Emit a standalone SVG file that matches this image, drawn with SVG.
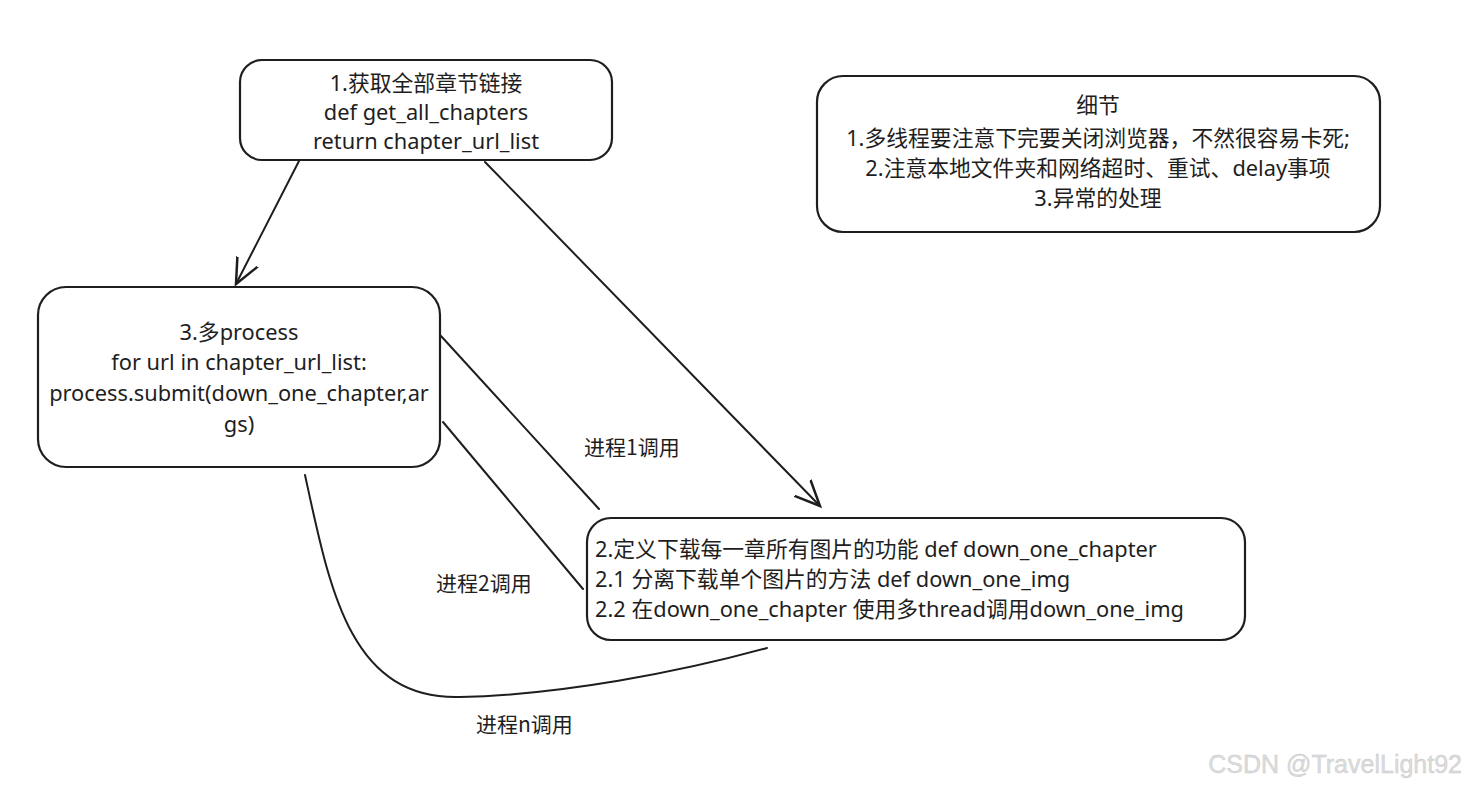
<svg xmlns="http://www.w3.org/2000/svg" width="1467" height="789" viewBox="0 0 1467 789">
<style>
.box{fill:#fff;stroke:#1e1e1e;stroke-width:2.2}
.t{font-family:"Noto Sans","Noto Sans CJK SC",sans-serif;font-size:21.8px;fill:#1e1e1e}
.c{text-anchor:middle}
.lbl{font-family:"Noto Sans CJK SC","Noto Sans",sans-serif;font-size:21px;font-weight:400;fill:#1e1e1e}
.ln{fill:none;stroke:#1e1e1e;stroke-width:2;stroke-linecap:round}
</style>
<defs>
<marker id="ah" markerUnits="userSpaceOnUse" markerWidth="30" markerHeight="30" viewBox="-20 -12 24 24" refX="0" refY="0" orient="auto">
<path d="M-20,-9 L0,0 L-20,9" fill="none" stroke="#1e1e1e" stroke-width="2" stroke-linecap="round"/>
</marker>
</defs>
<rect width="1467" height="789" fill="#fff"/>
<g id="connectors">
<path class="ln" d="M299,161 L236,284" marker-end="url(#ah)"/>
<path class="ln" d="M485,162 L820,506" stroke-width="1.6" marker-end="url(#ah)"/>
<path class="ln" d="M441,336 L599,509" stroke-width="1.7"/>
<path class="ln" d="M443,422 L583,589" stroke-width="2.6"/>
<path class="ln" d="M305,475 C330,590 350,700 460,697 C560,695 680,672 767,648" stroke-width="2.4"/>
<text class="lbl" x="584" y="455">进程1调用</text>
<text class="lbl" x="436" y="591">进程2调用</text>
<text class="lbl" x="476" y="732">进程n调用</text>
</g>
<g id="node-1">
<rect class="box" x="240" y="60" width="372" height="100" rx="22"/>
<text class="t c" x="426" y="91">1.获取全部章节链接</text>
<text class="t c" x="426" y="120">def get_all_chapters</text>
<text class="t c" x="426" y="149">return chapter_url_list</text>
</g>
<g id="node-details">
<rect class="box" x="817" y="76" width="563" height="156" rx="26"/>
<text class="t c" x="1098" y="113">细节</text>
<text class="t c" x="1098" y="146">1.多线程要注意下完要关闭浏览器，不然很容易卡死;</text>
<text class="t c" x="1098" y="176">2.注意本地文件夹和网络超时、重试、delay事项</text>
<text class="t c" x="1098" y="206">3.异常的处理</text>
</g>
<g id="node-3">
<rect class="box" x="38" y="287" width="402" height="180" rx="28"/>
<text class="t c" x="239" y="340">3.多process</text>
<text class="t c" x="239" y="370">for url in chapter_url_list:</text>
<text class="t c" x="239" y="401">process.submit(down_one_chapter,ar</text>
<text class="t c" x="239" y="432">gs)</text>
</g>
<g id="node-2">
<rect class="box" x="587" y="518" width="658" height="122" rx="24"/>
<text class="t" x="595" y="557">2.定义下载每一章所有图片的功能 def down_one_chapter</text>
<text class="t" x="595" y="587">2.1 分离下载单个图片的方法 def down_one_img</text>
<text class="t" x="595" y="617">2.2 在down_one_chapter 使用多thread调用down_one_img</text>
</g>
<text x="1462" y="773" text-anchor="end" font-family="Liberation Sans, sans-serif" font-size="25" fill="#dcdcdc" stroke="#c8c8c8" stroke-width="0.4">CSDN @TravelLight92</text>
</svg>
